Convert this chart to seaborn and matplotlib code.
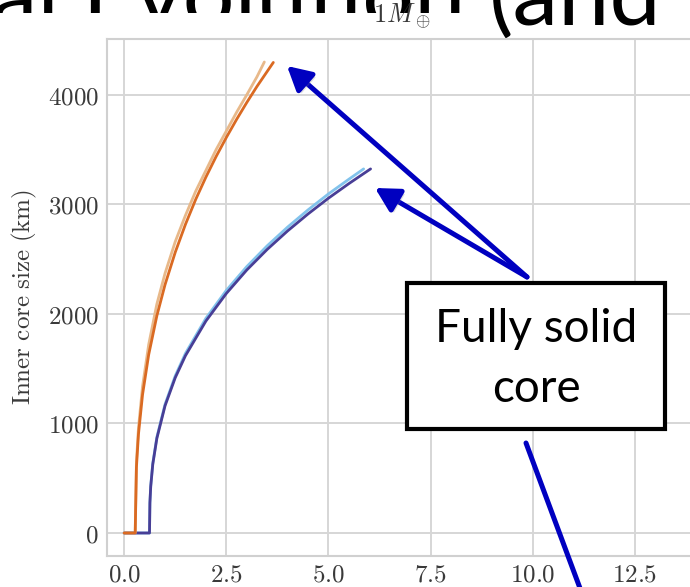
import matplotlib
matplotlib.use("Agg")
import matplotlib.pyplot as plt
import matplotlib.patheffects as pe
from matplotlib.patches import Rectangle, FancyArrowPatch
from matplotlib.transforms import Bbox
import pandas as pd
import seaborn as sns

# Inner core growth for four models (time vs inner core radius, km)
t_orange_dark = [0.0, 0.27, 0.27, 0.30, 0.35, 0.45, 0.60, 0.80, 1.00, 1.25, 1.50,
                 1.75, 2.00, 2.25, 2.50, 2.75, 3.00, 3.25, 3.50, 3.65]
r_orange_dark = [0, 0, 0, 599, 902, 1264, 1628, 1983, 2267, 2563, 2818,
                 3045, 3249, 3437, 3611, 3775, 3930, 4077, 4214, 4296]

t_orange_light = [0.0, 0.27, 0.27, 0.30, 0.35, 0.45, 0.60, 0.80, 1.00, 1.25, 1.50,
                  1.75, 2.00, 2.25, 2.50, 2.75, 3.00, 3.25, 3.43]
r_orange_light = [0, 0, 0, 650, 960, 1340, 1720, 2090, 2370, 2660, 2900,
                  3120, 3310, 3500, 3670, 3840, 4000, 4165, 4300]

t_blue_dark = [0.0, 0.62, 0.62, 0.63, 0.65, 0.70, 0.80, 1.00, 1.25, 1.50, 2.00,
               2.50, 3.00, 3.50, 4.00, 4.50, 5.00, 5.50, 6.03]
r_blue_dark = [0, 0, 0, 275, 425, 627, 864, 1161, 1418, 1619, 1935,
               2187, 2401, 2589, 2758, 2913, 3057, 3190, 3324]

t_blue_light = [0.0, 0.62, 0.62, 0.63, 0.65, 0.70, 0.80, 1.00, 1.25, 1.50, 2.00,
                2.50, 3.00, 3.50, 4.00, 4.50, 5.00, 5.50, 5.86]
r_blue_light = [0, 0, 0, 280, 430, 635, 875, 1175, 1435, 1640, 1960,
                2215, 2432, 2622, 2793, 2950, 3096, 3230, 3324]

model_names = ["blue_light", "blue_dark", "orange_light", "orange_dark"]
model_colors = ["#82c3ec", "#483e96", "#e8b98a", "#da6a22"]

x_ticks = [0.0, 2.5, 5.0, 7.5, 10.0, 12.5]
y_ticks = [0, 1000, 2000, 3000, 4000]

frames = []
for name, t, r in zip(model_names,
                      [t_blue_light, t_blue_dark, t_orange_light, t_orange_dark],
                      [r_blue_light, r_blue_dark, r_orange_light, r_orange_dark]):
    frames.append(pd.DataFrame({"time": t, "radius": r, "model": name}))
df = pd.concat(frames, ignore_index=True)

sns.set_theme(style="whitegrid")
plt.rcParams["mathtext.fontset"] = "cm"
plt.rcParams["grid.color"] = "#d6d6d6"
plt.rcParams["grid.linewidth"] = 1.4
plt.rcParams["axes.edgecolor"] = "#d0d0d0"
plt.rcParams["axes.linewidth"] = 1.5

W, H = 690, 587
fig = plt.figure(figsize=(W / 100, H / 100), dpi=100)
renderer = fig.canvas.get_renderer()

# Slide heading; the chart panel hides its lower part except for the last word
head_font = dict(fontsize=66, family=["Lato", "DejaVu Sans"], color="black")
head_right, head_base = 662, 26


def text_width(s):
    probe = fig.text(0, 0, s, **head_font)
    w = probe.get_window_extent(renderer).width
    probe.remove()
    return w


head_left = head_right - text_width("Thermal Evolution (and")
head_main = fig.text(head_left / W, 1 - head_base / H, "Thermal Evolution", ha="left",
                     va="baseline", zorder=1, **head_font)
head_main.set_clip_box(Bbox([[0, H - 13], [W, H]]))
fig.text(head_right / W, 1 - head_base / H, "(and", ha="right", va="baseline",
         zorder=1, **head_font)

ax = fig.add_axes([107 / W, 1 - 556 / H, (693 - 107) / W, (556 - 39) / H], zorder=3)
ax.patch.set_alpha(0)

sns.lineplot(data=df, x="time", y="radius", hue="model", hue_order=model_names,
             palette=dict(zip(model_names, model_colors)), estimator=None, sort=False,
             units="model", linewidth=2.0, legend=False, ax=ax)

ax.set_xlim(-0.42, 13.92)
ax.set_ylim(-210, 4510)
ax.set_xticks(x_ticks, labels=[f"${v:.1f}$" for v in x_ticks])
ax.set_yticks(y_ticks, labels=[f"${v}$" for v in y_ticks])
ax.tick_params(labelsize=18, colors="#3a3a3a", length=0)
ax.tick_params(axis="y", pad=6)
ax.tick_params(axis="x", pad=5)
ax.set_xlabel("")
ax.set_ylabel(r"$\mathrm{Inner\ core\ size\ (km)}$", fontsize=18, color="#3a3a3a", labelpad=6)
for s in ax.spines.values():
    s.set_color("#d0d0d0")

fig.text(402 / W, 1 - 23 / H, r"$1M_\oplus$", ha="center", va="baseline",
         fontsize=19, color="#3a3a3a", zorder=4)

# Callout box
fig.add_artist(Rectangle((407 / W, 1 - 429 / H), 258 / W, 146 / H, transform=fig.transFigure,
                         facecolor="white", edgecolor="black", linewidth=3, zorder=5))
box_font = dict(fontsize=33, family=["Lato", "DejaVu Sans"], color="black",
                ha="center", va="baseline", zorder=6)
fig.text(536 / W, 1 - 342 / H, "Fully solid", **box_font)
fig.text(536 / W, 1 - 402 / H, "core", **box_font)

arrow_blue = "#0000c0"
shadow = [pe.SimplePatchShadow(offset=(2, -2), shadow_rgbFace="0.5", alpha=0.25), pe.Normal()]
for tip in [(287, 66), (375, 188)]:
    fig.add_artist(FancyArrowPatch(
        (527, H - 277), (tip[0], H - tip[1]), transform=None,
        arrowstyle="-|>,head_length=1.1,head_width=0.6", mutation_scale=13,
        color=arrow_blue, linewidth=3.6, zorder=7, shrinkA=0, shrinkB=0,
        path_effects=shadow))
fig.add_artist(FancyArrowPatch(
    (526, H - 443), (584, -12), transform=None, arrowstyle="-",
    color=arrow_blue, linewidth=3.6, zorder=7, shrinkA=0, shrinkB=0,
    path_effects=shadow))

fig.savefig("out.png", dpi=100)
